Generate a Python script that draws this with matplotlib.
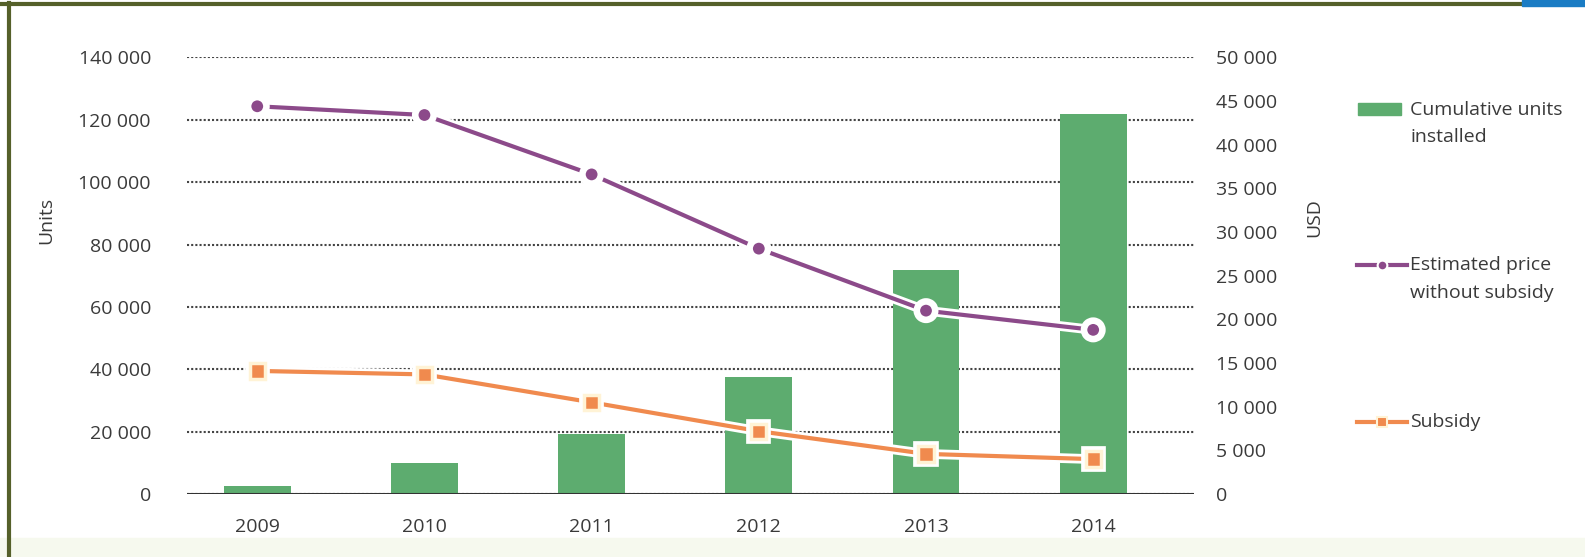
import numpy as np
import matplotlib
matplotlib.use("Agg")
import matplotlib.pyplot as plt
import matplotlib.patheffects as pe
from matplotlib.lines import Line2D
from matplotlib.patches import Rectangle
from matplotlib.ticker import FuncFormatter

plt.rcParams['font.family'] = ['Open Sans', 'DejaVu Sans']

# data
years = ['2009', '2010', '2011', '2012', '2013', '2014']
units = [2600, 10000, 19400, 37600, 71900, 121900]
price = [44400, 43400, 36600, 28100, 21000, 18800]
subsidy = [14100, 13700, 10500, 7200, 4600, 4000]

green = '#5dac6f'
purple = '#8c4a8a'
orange = '#f08a4e'
txt = '#3a3a3a'
W, H = 1585, 557

fig = plt.figure(figsize=(W / 100, H / 100), dpi=100)
ax = fig.add_axes([0.118, 0.113, 0.635, 0.784])
ax2 = ax.twinx()

x = np.arange(len(years))

# bars
ax.bar(x, units, width=0.4, color=green, zorder=3)
ax.set_ylim(0, 140000)
ax.set_yticks(np.arange(0, 140001, 20000))
ax.set_xlim(-0.42, 5.6)
ax.set_xticks(x)
ax.set_xticklabels(years)
ax.yaxis.grid(True, linestyle=(0, (1, 1)), color='#444444', linewidth=1.5, zorder=0)
ax.set_axisbelow(True)

fmt = FuncFormatter(lambda v, p: '{:,.0f}'.format(v).replace(',', ' '))
ax.yaxis.set_major_formatter(fmt)
ax2.yaxis.set_major_formatter(fmt)

# lines
halo = [pe.Stroke(linewidth=7, foreground='white'), pe.Normal()]
ax2.plot(x, price, color=purple, linewidth=3, marker='o', markersize=11,
         markerfacecolor=purple, markeredgecolor='white', markeredgewidth=2.5,
         path_effects=halo, zorder=5)
ax2.plot(x, subsidy, color=orange, linewidth=3, marker='s', markersize=11,
         markerfacecolor=orange, markeredgecolor='#fff3d6', markeredgewidth=2.5,
         path_effects=halo, zorder=5)
ax2.set_ylim(0, 50000)
ax2.set_yticks(np.arange(0, 50001, 5000))

for a in (ax, ax2):
    for s in a.spines.values():
        s.set_visible(False)
    a.tick_params(length=0, labelsize=14, colors=txt)
ax.tick_params(axis='y', pad=26)
ax.tick_params(axis='x', pad=17)
ax2.tick_params(axis='y', pad=16)
for lab in ax2.get_yticklabels():
    lab.set_horizontalalignment('left')

# baseline
ax.axhline(0, color='#333333', linewidth=2.2, zorder=4)

fig.text(0.029, 0.605, 'Units', rotation=90, ha='center', va='center', fontsize=14, color=txt)
fig.text(0.829, 0.61, 'USD', rotation=90, ha='center', va='center', fontsize=14, color=txt)

# legend drawn by hand, pixel positions of the reference
def fx(px):
    return px / W

def fy(py):
    return 1 - py / H

fig.patches.append(Rectangle((fx(1358), fy(115)), fx(1401) - fx(1358), fy(103) - fy(115),
                             transform=fig.transFigure, color=green))
fig.lines.append(Line2D([fx(1357), fx(1407)], [fy(265), fy(265)], transform=fig.transFigure,
                        color=purple, linewidth=3, marker='o', markersize=7, markevery=[0],
                        markerfacecolor=purple, markeredgecolor=purple))
fig.lines.append(Line2D([fx(1382)], [fy(265)], transform=fig.transFigure, color=purple,
                        marker='o', markersize=7, markeredgecolor='white', markeredgewidth=1.5))
fig.lines.append(Line2D([fx(1357), fx(1407)], [fy(422), fy(422)], transform=fig.transFigure,
                        color=orange, linewidth=3))
fig.lines.append(Line2D([fx(1382)], [fy(422)], transform=fig.transFigure, color=orange,
                        marker='s', markersize=7, markeredgecolor='#fff3d6', markeredgewidth=1.5))
# remove the stray marker on the purple handle line
fig.lines[0].set_marker('None')

leg_lines = [('Cumulative units', 110), ('installed', 137),
             ('Estimated price', 265), ('without subsidy', 293), ('Subsidy', 422)]
for s, py in leg_lines:
    fig.text(fx(1410), fy(py), s, ha='left', va='center', fontsize=14, color=txt)

# screenshot frame
fig.patches.append(Rectangle((0, 0), 1, 0.035, transform=fig.transFigure, color='#f6f9ee', zorder=-1))
fig.lines.append(Line2D([0, 1], [0.993, 0.993], transform=fig.transFigure, color='#55602a', linewidth=3))
fig.lines.append(Line2D([0.0055, 0.0055], [0, 0.995], transform=fig.transFigure, color='#55602a', linewidth=3))
fig.patches.append(Rectangle((0.96, 0.99), 0.04, 0.01, transform=fig.transFigure, color='#1a7cc4', zorder=5))

fig.savefig('out.png', dpi=100)
